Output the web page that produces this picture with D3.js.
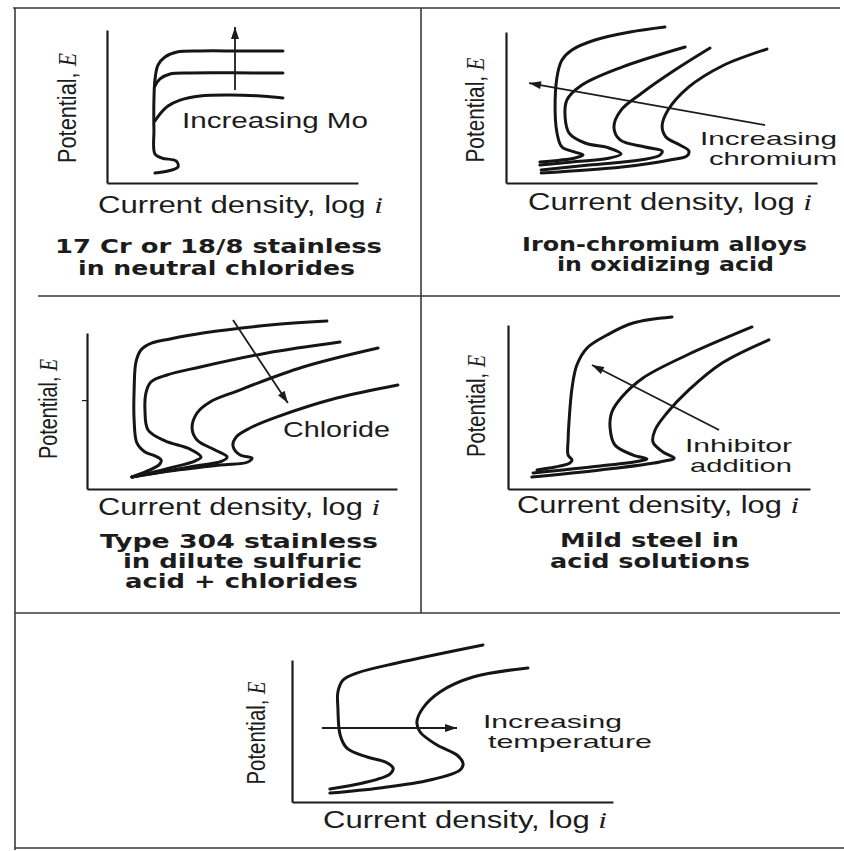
<!DOCTYPE html>
<html><head><meta charset="utf-8">
<script src="https://cdn.jsdelivr.net/npm/d3@7"></script>
<style>html,body{margin:0;padding:0;background:#fff}</style>
</head><body>
<svg id="chart" width="844" height="851"></svg>
<script>
// ---------- text ----------
const xAxisText = "Current density, log ";
const xAxisItalic = "i";
const yAxisText = "Potential, ";
const yAxisItalic = "E";
const titles1 = ["17 Cr or 18/8 stainless", "in neutral chlorides"];
const titles2 = ["Iron-chromium alloys", "in oxidizing acid"];
const titles3 = ["Type 304 stainless", "in dilute sulfuric", "acid + chlorides"];
const titles4 = ["Mild steel in", "acid solutions"];
const notes1 = ["Increasing Mo"];
const notes2 = ["Increasing", "chromium"];
const notes3 = ["Chloride"];
const notes4 = ["Inhibitor", "addition"];
const notes5 = ["Increasing", "temperature"];

// ---------- curves (x = log i, y = E, both 0..100 of axis) ----------
// Panel 1: 17 Cr or 18/8 stainless, increasing Mo
const moTop = [[19.1,6.5],[24.3,7.8],[28.3,10.5],[27.5,14.4],[21.9,16.3],[19.1,19.0],[18.7,34.6],[18.7,54.2],[19.1,67.3],[20.3,77.1],[23.1,82.4],[27.9,85.6],[37.1,86.3],[53.0,86.3],[70.1,86.3]];
const moMid = [[19.1,63.4],[21.1,68.0],[25.1,71.2],[33.1,71.9],[50.0,72.0],[70.1,71.9]];
const moLow = [[19.1,40.5],[21.1,45.1],[24.3,50.3],[29.1,54.2],[37.1,56.9],[49.0,57.5],[61.0,56.9],[70.1,55.6]];
const moArrow = [[51.0,60.8],[51.0,102.0]];

// Panel 2: Iron-chromium alloys in oxidizing acid
const crA = [[10.9,13.9],[22.2,16.6],[24.8,18.5],[22.2,20.5],[18.0,23.8],[16.4,33.1],[15.8,55.0],[16.7,73.5],[18.0,81.5],[21.2,88.1],[28.6,94.7],[39.9,100.0],[51.1,103.3]];
const crB = [[10.9,11.9],[21.2,13.9],[33.4,16.6],[37.0,19.2],[33.1,23.2],[25.4,26.5],[20.3,33.1],[19.0,43.7],[19.6,55.0],[24.4,64.9],[37.3,76.8],[57.6,90.1]];
const crC = [[11.3,8.6],[26.7,11.9],[43.1,15.2],[49.5,18.5],[50.2,21.2],[44.7,23.8],[36.7,28.5],[34.7,37.1],[37.0,48.3],[43.7,59.6],[54.3,74.8],[65.6,89.4]];
const crD = [[11.3,6.6],[37.3,10.6],[52.7,15.2],[58.2,17.9],[58.8,21.2],[55.9,25.2],[51.4,30.5],[50.2,37.7],[52.1,48.3],[58.8,63.6],[69.5,77.5],[83.9,88.7]];
const crArrow = [[83.3,38.4],[7.4,66.2]];

// Panel 3: Type 304 stainless in dilute sulfuric acid + chlorides
const clA = [[14.5,7.7],[20.3,12.2],[23.5,16.0],[23.9,18.6],[21.9,21.2],[18.7,23.7],[16.1,29.5],[15.2,44.2],[15.2,63.5],[15.8,81.4],[17.4,89.1],[21.0,93.6],[26.8,96.2],[37.4,100.0],[59.0,105.1],[77.4,107.7]];
const clB = [[14.5,7.7],[26.8,13.5],[34.8,17.9],[36.8,20.5],[33.2,25.6],[25.2,30.8],[19.7,37.8],[18.7,50.6],[19.0,61.5],[20.6,68.6],[25.8,73.1],[36.5,78.2],[58.1,87.2],[81.6,94.2]];
const clC = [[14.5,7.7],[33.2,14.1],[43.5,17.9],[45.2,20.5],[41.3,25.0],[35.5,31.4],[33.9,39.1],[35.5,48.7],[39.7,55.8],[48.4,62.8],[69.7,78.2],[93.9,90.4]];
const clD = [[14.5,7.7],[26.8,11.5],[42.9,15.4],[51.9,17.3],[53.2,19.9],[49.4,21.8],[47.1,27.6],[48.1,33.3],[52.6,39.1],[61.3,46.2],[80.6,58.3],[100.3,66.7]];
const clArrow = [[47.1,108.3],[64.8,55.1]];
const clTick = [57];

// Panel 4: Mild steel in acid solutions
const inA = [[9.6,11.6],[15.6,13.4],[20.5,15.9],[21.2,17.7],[19.9,20.7],[19.9,29.9],[20.2,40.9],[21.2,61.6],[22.8,75.6],[26.2,86.0],[32.8,93.9],[41.4,101.2],[54.3,104.9]];
const inB = [[8.3,9.8],[30.5,14.0],[43.7,17.1],[46.0,18.3],[41.4,20.7],[35.4,26.8],[33.8,37.2],[34.4,47.0],[37.7,56.1],[44.7,67.7],[59.3,81.7],[80.8,98.8]];
const inC = [[7.9,7.3],[30.5,11.6],[50.3,16.5],[55.0,18.9],[51.3,22.6],[48.0,28.7],[48.7,36.0],[52.6,46.3],[59.9,60.4],[70.9,76.8],[86.4,90.9]];
const inArrow = [[69.9,36.0],[27.8,75.6]];

// Panel 5: increasing temperature
const tpA = [[11.8,9.2],[22.1,13.4],[30.5,19.7],[31.5,23.9],[29.0,28.2],[23.4,31.7],[17.1,38.0],[15.0,47.2],[14.3,66.2],[14.3,77.5],[15.9,85.9],[20.2,90.8],[32.7,97.9],[59.5,110.6]];
const tpB = [[11.8,6.3],[27.4,9.9],[43.0,15.5],[52.3,22.5],[53.3,26.8],[51.4,33.1],[45.2,40.1],[39.9,49.3],[38.9,56.3],[40.8,66.2],[46.1,77.5],[56.4,88.0],[73.5,94.4]];
const tpArrow = [[9.3,52.1],[51.4,52.1]];

// ---------- layout ----------
const INK = "#1c1c1c";
const panels = [
  { box:{x0:107,x1:358,yB:183,yT:30}, curves:[moTop,moMid,moLow], arrow:moArrow,
    yl:{bx:76,cy:108,len:110}, xl:{x0:98,x1:383,y:213},
    titles:titles1, tpos:[[55,382,253],[78,355,275]],
    notes:notes1, npos:[[182,368,128]], nsize:22 },
  { box:{x0:506,x1:817,yB:183,yT:32}, curves:[crA,crB,crC,crD], arrow:crArrow,
    yl:{bx:484,cy:110,len:105}, xl:{x0:528,x1:812,y:210},
    titles:titles2, tpos:[[522,807,251],[557,774,271]],
    notes:notes2, npos:[[700,837,145],[709,837,165]], nsize:19 },
  { box:{x0:87,x1:397,yB:489,yT:333}, curves:[clA,clB,clC,clD], arrow:clArrow, ticks:clTick,
    yl:{bx:57,cy:409,len:100}, xl:{x0:98,x1:380,y:515},
    titles:titles3, tpos:[[100,378,548],[123,362,568],[125,358,588]],
    notes:notes3, npos:[[283,390,437]], nsize:22 },
  { box:{x0:508,x1:810,yB:489,yT:325}, curves:[inA,inB,inC], arrow:inArrow,
    yl:{bx:485,cy:406,len:102}, xl:{x0:517,x1:799,y:513},
    titles:titles4, tpos:[[560,739,547],[550,750,568]],
    notes:notes4, npos:[[685,792,452],[690,792,472]], nsize:19 },
  { box:{x0:292,x1:613,yB:802,yT:660}, curves:[tpA,tpB], arrow:tpArrow,
    yl:{bx:265,cy:733,len:103}, xl:{x0:323,x1:607,y:828},
    titles:[], tpos:[],
    notes:notes5, npos:[[483,622,728],[488,652,748]], nsize:19 }
];

const svg = d3.select("#chart");
svg.append("rect").attr("width",844).attr("height",851).attr("fill","#fff");

svg.append("defs").append("marker")
  .attr("id","ah").attr("viewBox","0 0 12 8").attr("refX",12).attr("refY",4)
  .attr("markerWidth",13).attr("markerHeight",8).attr("markerUnits","userSpaceOnUse")
  .attr("orient","auto")
  .append("path").attr("d","M0,0L12,4L0,8Z").attr("fill",INK);

// frame
const frame = svg.append("g").attr("stroke","#3a3a3a").attr("stroke-width",1.6).attr("fill","none");
[[13,8,840,8],[15,8,15,850],[38,296,840,296],[421,8,421,613],[15,613,840,613],[15,848,844,848]]
  .forEach(l=>frame.append("line").attr("x1",l[0]).attr("y1",l[1]).attr("x2",l[2]).attr("y2",l[3]));

function addText(g, str, x0, x1, y, size, opts={}) {
  const t = g.append("text").attr("x",x0).attr("y",y)
    .attr("font-family", opts.family || "'Liberation Sans', Arial, sans-serif")
    .attr("font-size", size).attr("font-weight", opts.weight || "normal")
    .attr("fill", INK).attr("textLength", x1-x0).attr("lengthAdjust","spacingAndGlyphs");
  t.append("tspan").text(str);
  if (opts.italic) t.append("tspan").attr("font-family","'Liberation Serif', 'Times New Roman', serif")
      .attr("font-style","italic").text(opts.italic);
  return t;
}

panels.forEach(p => {
  const g = svg.append("g");
  const x = d3.scaleLinear().domain([0,100]).range([p.box.x0, p.box.x1]);
  const y = d3.scaleLinear().domain([0,100]).range([p.box.yB, p.box.yT]);

  g.append("g").attr("transform",`translate(0,${p.box.yB})`)
    .call(d3.axisBottom(x).tickValues([]).tickSizeOuter(0));
  g.append("g").attr("transform",`translate(${p.box.x0},0)`)
    .call(d3.axisLeft(y).tickValues(p.ticks || []).tickSize(5).tickSizeOuter(0).tickFormat(""));
  g.selectAll(".domain").attr("stroke",INK).attr("stroke-width",2.2);
  g.selectAll(".tick line").attr("stroke",INK).attr("stroke-width",1.2);

  const line = d3.line().x(d=>x(d[0])).y(d=>y(d[1])).curve(d3.curveCatmullRom.alpha(0.5));
  g.selectAll("path.curve").data(p.curves).join("path").attr("class","curve")
    .attr("d", line).attr("fill","none").attr("stroke","#151515")
    .attr("stroke-width",3).attr("stroke-linecap","round").attr("stroke-linejoin","round");

  g.append("path").attr("d", d3.line().x(d=>x(d[0])).y(d=>y(d[1]))(p.arrow))
    .attr("fill","none").attr("stroke",INK).attr("stroke-width",1.8)
    .attr("marker-end","url(#ah)");

  // axis labels
  addText(g, xAxisText, p.xl.x0, p.xl.x1, p.xl.y, 23, {italic:xAxisItalic});
  const yl = g.append("g").attr("transform",`translate(${p.yl.bx},${p.yl.cy}) rotate(-90)`);
  addText(yl, yAxisText, -p.yl.len/2, p.yl.len/2, 0, 26, {italic:yAxisItalic});

  p.titles.forEach((s,i)=> addText(g, s, p.tpos[i][0], p.tpos[i][1], p.tpos[i][2], 19,
    {family:"'DejaVu Sans', sans-serif", weight:"bold"}));
  p.notes.forEach((s,i)=> addText(g, s, p.npos[i][0], p.npos[i][1], p.npos[i][2], p.nsize));
});
</script>
</body></html>
